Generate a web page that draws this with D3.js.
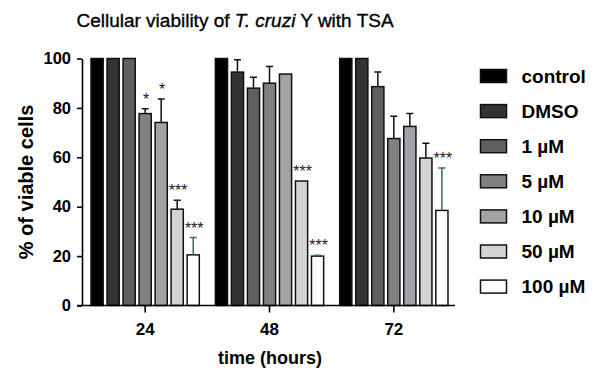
<!DOCTYPE html>
<html>
<head>
<meta charset="utf-8">
<script src="https://cdn.jsdelivr.net/npm/d3@7"></script>
<style>
  html, body { margin: 0; padding: 0; background: #fff; }
  svg { display: block; font-family: "Liberation Sans", Arial, sans-serif; }
</style>
</head>
<body>
<svg id="chart" width="599" height="370"></svg>
<script>
// ---- data ----
const groups = ["24", "48", "72"];
const seriesNames = ["control", "DMSO", "1 µM", "5 µM", "10 µM", "50 µM", "100 µM"];
const seriesColors = ["#000000", "#333333", "#606060", "#808080", "#a3a3a7", "#d4d4d4", "#ffffff"];

const controlVals = [100, 100, 100];
const dmsoVals    = [100, 94.5, 100];
const um1Vals     = [100, 88.0, 88.6];
const um5Vals     = [77.7, 90.0, 67.6];
const um10Vals    = [74.1, 93.7, 72.5];
const um50Vals    = [39.0, 50.4, 59.7];
const um100Vals   = [20.5, 20.0, 38.5];

const controlErr = [0, 0, 0];
const dmsoErr    = [0, 5.0, 0];
const um1Err     = [0, 4.4, 5.9];
const um5Err     = [2.0, 6.8, 9.0];
const um10Err    = [9.5, 0, 5.2];
const um50Err    = [3.6, 0, 6.0];
const um100Err   = [7.0, 0.3, 17.2];

const controlSig = ["", "", ""];
const dmsoSig    = ["", "", ""];
const um1Sig     = ["", "", ""];
const um5Sig     = ["*", "", ""];
const um10Sig    = ["*", "", ""];
const um50Sig    = ["***", "***", ""];
const um100Sig   = ["***", "***", "***"];

const yTicks = [0, 20, 40, 60, 80, 100];

const allVals = [controlVals, dmsoVals, um1Vals, um5Vals, um10Vals, um50Vals, um100Vals];
const allErr  = [controlErr, dmsoErr, um1Err, um5Err, um10Err, um50Err, um100Err];
const allSig  = [controlSig, dmsoSig, um1Sig, um5Sig, um10Sig, um50Sig, um100Sig];

const records = [];
groups.forEach((g, gi) => {
  seriesNames.forEach((s, si) => {
    records.push({ group: g, series: s, si, value: allVals[si][gi], err: allErr[si][gi], sig: allSig[si][gi] });
  });
});

// ---- layout ----
const svg = d3.select("#chart");
const axisLeftX = 82, axisRightX = 455, axisStartX = 77;
const y = d3.scaleLinear().domain([0, 100]).range([305.5, 58.5]);
const x0 = d3.scaleBand().domain(groups).range([83, 456]).paddingInner(16 / 124).paddingOuter(8 / 124);
const x1 = d3.scaleBand().domain(seriesNames).range([0, x0.bandwidth()]).paddingInner(0.24).paddingOuter(0);
const color = d3.scaleOrdinal().domain(seriesNames).range(seriesColors);

// title
const title = svg.append("text")
  .attr("x", 235).attr("y", 26.5)
  .attr("text-anchor", "middle")
  .attr("font-size", 19)
  .attr("fill", "#000")
  .attr("stroke", "#000").attr("stroke-width", 0.35);
title.append("tspan").text("Cellular viability of ");
title.append("tspan").attr("font-style", "italic").text("T. cruzi");
title.append("tspan").text(" Y with TSA");

// bars
const barG = svg.append("g");
barG.selectAll("rect")
  .data(records)
  .join("rect")
  .attr("x", d => x0(d.group) + x1(d.series))
  .attr("y", d => y(d.value))
  .attr("width", x1.bandwidth())
  .attr("height", d => y(0) - y(d.value))
  .attr("fill", d => color(d.series))
  .attr("stroke", "#111")
  .attr("stroke-width", 1.5);

// error bars (upper only)
const errRecs = records.filter(d => d.err > 0);
const errG = svg.append("g").attr("fill", "none").attr("stroke-width", 1.5);
errG.selectAll("path")
  .data(errRecs)
  .join("path")
  .attr("stroke", d => d.series === "100 µM" ? "#3d6e4c" : "#111")
  .attr("d", d => {
    const cx = x0(d.group) + x1(d.series) + x1.bandwidth() / 2;
    const yt = y(d.value + d.err), yb = y(d.value);
    return `M${cx},${yb}V${yt}M${cx - 3.5},${yt}H${cx + 3.5}`;
  });

// significance stars
svg.append("g").selectAll("text")
  .data(records.filter(d => d.sig))
  .join("text")
  .attr("x", d => x0(d.group) + x1(d.series) + x1.bandwidth() / 2 + 1)
  .attr("y", d => y(d.value + d.err) - 4)
  .attr("text-anchor", "middle")
  .attr("font-size", 16)
  .attr("fill", "#222")
  .text(d => d.sig);

// y axis
const yAxis = svg.append("g")
  .attr("transform", `translate(${axisLeftX},0)`)
  .call(d3.axisLeft(y).tickValues(yTicks).tickSize(5).tickPadding(6).tickSizeOuter(0));
yAxis.select(".domain").attr("stroke", "#000").attr("stroke-width", 1.6);
yAxis.selectAll(".tick line").attr("stroke", "#000").attr("stroke-width", 1.6);
yAxis.selectAll(".tick text")
  .attr("font-family", "Liberation Sans, Arial, sans-serif")
  .attr("font-size", 16.5).attr("font-weight", "bold").attr("fill", "#000");

// x axis
const xAxis = svg.append("g")
  .attr("transform", `translate(0,${y(0)})`)
  .call(d3.axisBottom(x0).tickSize(7).tickPadding(10).tickSizeOuter(0));
xAxis.select(".domain").remove();
xAxis.append("line")
  .attr("x1", axisStartX).attr("x2", axisRightX)
  .attr("y1", 0).attr("y2", 0)
  .attr("stroke", "#000").attr("stroke-width", 1.6);
xAxis.selectAll(".tick line").attr("stroke", "#000").attr("stroke-width", 1.6);
xAxis.selectAll(".tick text")
  .attr("font-family", "Liberation Sans, Arial, sans-serif")
  .attr("font-size", 17).attr("font-weight", "bold").attr("fill", "#000");

// axis titles
svg.append("text")
  .attr("x", 270).attr("y", 363.5)
  .attr("text-anchor", "middle")
  .attr("font-size", 18).attr("font-weight", "bold")
  .text("time (hours)");

svg.append("text")
  .attr("transform", "translate(32.5,182) rotate(-90)")
  .attr("text-anchor", "middle")
  .attr("font-size", 20).attr("font-weight", "bold")
  .text("% of viable cells");

// legend
const legend = svg.append("g");
const leg = legend.selectAll("g")
  .data(seriesNames)
  .join("g")
  .attr("transform", (d, i) => `translate(480.5,${69.5 + i * 35.1})`);
leg.append("rect")
  .attr("width", 26).attr("height", 13)
  .attr("fill", d => color(d))
  .attr("stroke", "#111").attr("stroke-width", 1.5);
leg.append("text")
  .attr("x", 41).attr("y", 6.5)
  .attr("dy", "0.36em")
  .attr("font-size", 19).attr("font-weight", "bold")
  .text(d => d);
</script>
</body>
</html>
